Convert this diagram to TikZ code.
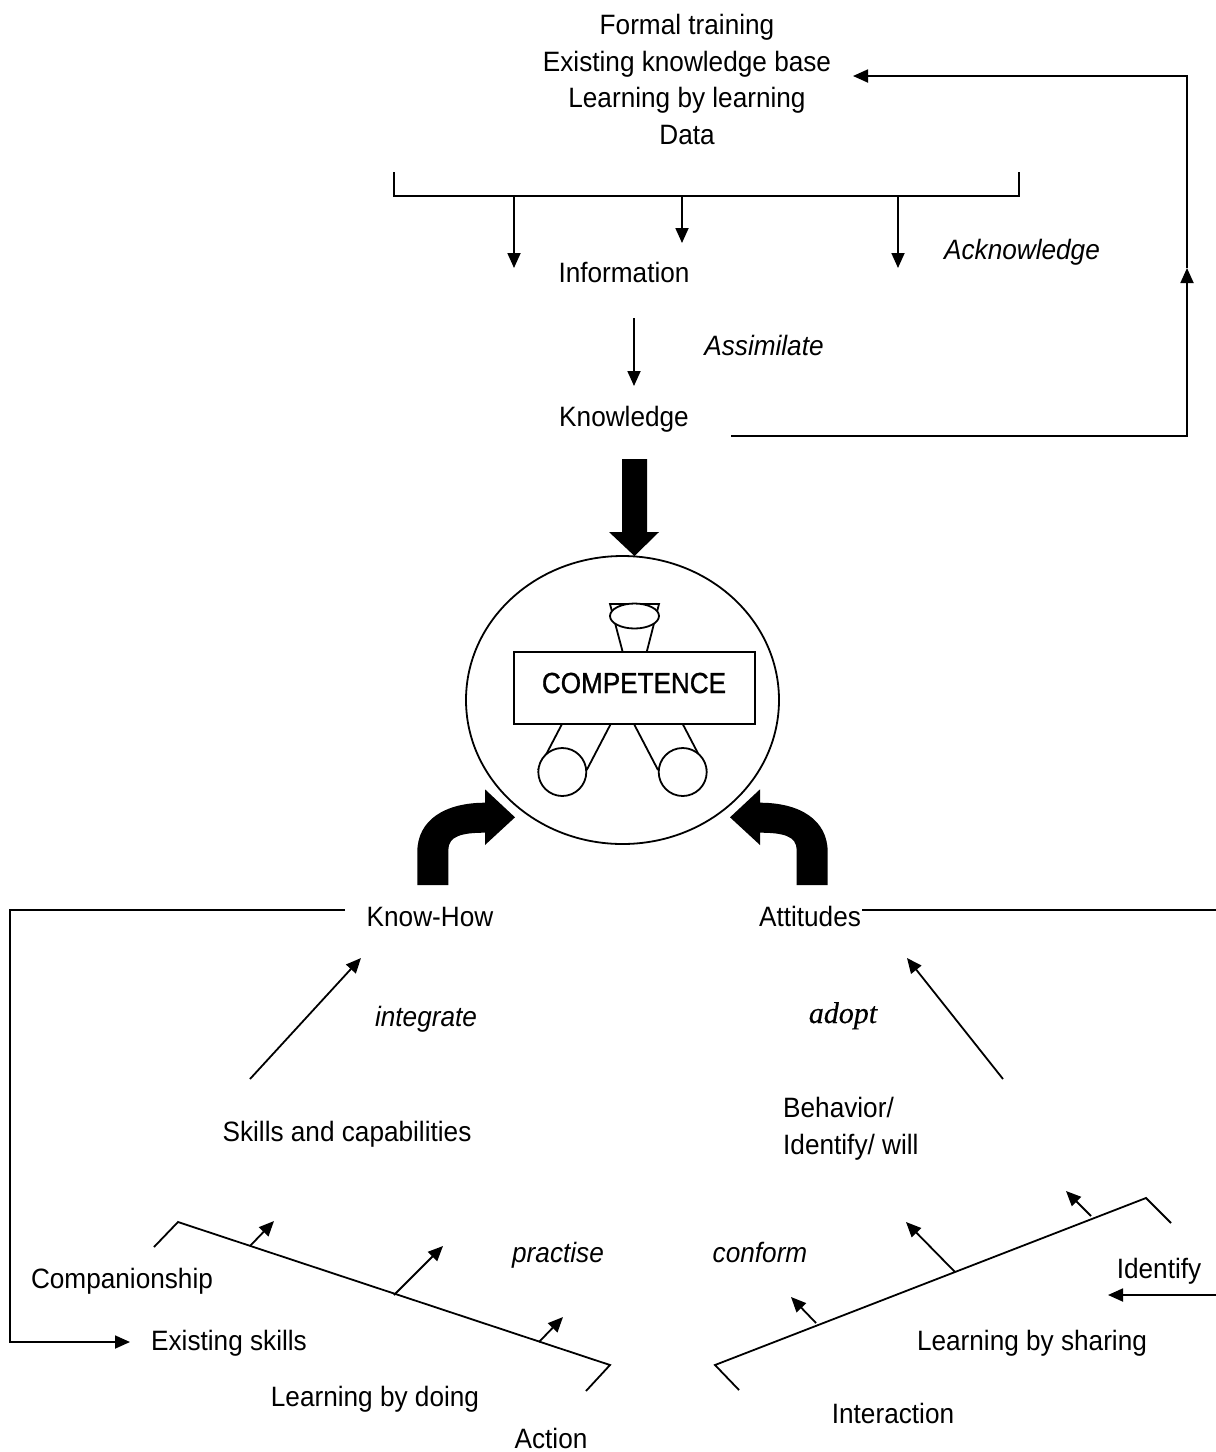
\documentclass[tikz,border=0pt]{standalone}
\usepackage{fontspec}
\setmainfont[FakeStretch=0.935]{Liberation Sans}
\newfontfamily\adoptfont[FakeBold=0.4]{Liberation Serif}
\newfontfamily\capsfont[FakeBold=1,FakeStretch=0.9]{Liberation Sans}
\usetikzlibrary{arrows.meta,shapes.geometric}
\tikzset{
	lbl/.style={inner sep=0pt, anchor=base, font=\fontsize{28}{36.5}\selectfont},
	verb/.style={lbl, font=\fontsize{28}{36.5}\selectfont\itshape},
	ln/.style={line width=1.8pt, line join=miter},
	arw/.style={ln, -{Triangle[length=15pt, width=13pt]}},
	blockarw/.style={fill=black, draw=none},
	part/.style={draw, line width=1.8pt, fill=white, inner sep=0pt},
}
\begin{document}
\begin{tikzpicture}[x=1pt, y=-1pt]
		\useasboundingbox (0,0) rectangle (1216,1452);
		\node[lbl, align=center] (sources) at (687,144) {Formal training\\Existing knowledge base\\Learning by learning\\Data};
		\node[lbl] (information) at (624,282) {Information};
		\node[lbl] (knowledge) at (624,426) {Knowledge};
		\node[verb] (acknowledge) at (1022,259) {Acknowledge};
		\node[verb] (assimilate) at (764,355) {Assimilate};
		\node[lbl] (knowhow) at (430,926) {Know-How};
		\node[lbl] (attitudes) at (810,926) {Attitudes};
		\node[verb] (integrate) at (426,1026) {integrate};
		\node[lbl, font=\fontsize{30}{36.5}\adoptfont\itshape] (adopt) at (843,1023) {adopt};
		\node[lbl] (skills) at (347,1141) {Skills and capabilities};
		\node[lbl, align=left, anchor=base west] (behavior) at (783,1154) {Behavior/\\Identify/ will};
		\node[verb] (practise) at (558,1262) {practise};
		\node[verb] (conform) at (760,1262) {conform};
		\node[lbl] (companionship) at (122,1288) {Companionship};
		\node[lbl] (existing) at (229,1350) {Existing skills};
		\node[lbl] (doing) at (375,1406) {Learning by doing};
		\node[lbl] (action) at (551,1448) {Action};
		\node[lbl] (identify) at (1159,1278) {Identify};
		\node[lbl] (sharing) at (1032,1350) {Learning by sharing};
		\node[lbl] (interaction) at (893,1423) {Interaction};

		\coordinate (bracketL) at (394,172);
		\coordinate (bracketR) at (1019,172);
		\coordinate (drop1) at (514,196);
		\coordinate (drop2) at (682,196);
		\coordinate (drop3) at (898,196);
		\coordinate (drop1end) at (514,268);
		\coordinate (drop2end) at (682,243);
		\coordinate (drop3end) at (898,268);
		\draw[ln] (bracketL) -- (394,196) -- (1019,196) -- (bracketR);
		\draw[arw] (drop1) -- (drop1end);
		\draw[arw] (drop2) -- (drop2end);
		\draw[arw] (drop3) -- (drop3end);

		\coordinate (infoOut) at (634,318);
		\coordinate (knowIn) at (634,386);
		\draw[arw] (infoOut) -- (knowIn);

		\coordinate (knowOut) at (731,436);
		\coordinate (backMid) at (1187,268);
		\coordinate (sourcesIn) at (853,76);
		\draw[arw] (knowOut) -| (backMid);
		\draw[arw] (backMid) |- (sourcesIn);

		\draw[blockarw] (622,459) -- (647,459) -- (647,532) -- (659,532) -- (634.5,556) -- (609,532) -- (622,532) -- cycle;

		\node[part, ellipse, minimum width=313pt, minimum height=288pt, fill=none] (competenceRing) at (622.5,700) {};
		\node[part, minimum width=241pt, minimum height=72pt] (competence) at (634.5,688) {};
		\node[lbl, font=\fontsize{29}{36.5}\capsfont] (competenceText) at (634,693) {COMPETENCE};

		\draw[ln] (622.7,652) -- (610,604) -- (659,604) -- (646.7,652);
		\node[part, ellipse, minimum width=49pt, minimum height=25pt] (head) at (634.5,616) {};
		\draw[ln] (562,724) -- (538,770);
		\draw[ln] (610.7,724) -- (586.7,770);
		\draw[ln] (634,724) -- (658,770);
		\draw[ln] (682.7,724) -- (706.7,770);
		\node[part, circle, minimum size=48pt] (footL) at (562.3,772) {};
		\node[part, circle, minimum size=48pt] (footR) at (682.7,772) {};

		\draw[blockarw] (417.3,885) -- (417.3,852) .. controls (417.3,820) and (445,802.7) .. (485,802.7) -- (485,789.3) -- (515,817.3) -- (485,845) -- (485,832.7) .. controls (462,832.7) and (448.3,836) .. (448.3,850) -- (448.3,885) -- cycle;
		\draw[blockarw] (827.7,885) -- (827.7,852) .. controls (827.7,820) and (800,802.7) .. (760,802.7) -- (760,789.3) -- (730,817.3) -- (760,845) -- (760,832.7) .. controls (783,832.7) and (796.7,836) .. (796.7,850) -- (796.7,885) -- cycle;

		\coordinate (howOut) at (345,910);
		\coordinate (existingIn) at (130,1342);
		\coordinate (attOut) at (862,910);
		\coordinate (attEdge) at (1216,910);
		\coordinate (identEdge) at (1216,1295);
		\coordinate (identIn) at (1108,1295);
		\draw[arw] (howOut) -- (10,910) -- (10,1342) -- (existingIn);
		\draw[ln] (attOut) -- (attEdge);
		\draw[arw] (identEdge) -- (identIn);

		\coordinate (skillsOut) at (250,1079);
		\coordinate (howIn) at (361,958);
		\coordinate (behaviorOut) at (1003,1079);
		\coordinate (attIn) at (907,958);
		\draw[arw] (skillsOut) -- (howIn);
		\draw[arw] (behaviorOut) -- (attIn);

		\coordinate (beamLa) at (178,1222);
		\coordinate (beamLb) at (610,1365);
		\coordinate (beamRa) at (715,1365);
		\coordinate (beamRb) at (1146,1198);
		\draw[ln] (154,1247) -- (beamLa) -- (beamLb) -- (586,1391);
		\draw[ln] (739,1390) -- (beamRa) -- (beamRb) -- (1171,1223);

		\draw[arw] (250,1246) -- (274,1221);
		\draw[arw] (394,1295) -- (443,1246);
		\draw[arw] (539,1342) -- (563,1317);
		\draw[arw] (816,1323) -- (791,1297);
		\draw[arw] (955,1272) -- (906,1222);
		\draw[arw] (1091,1216) -- (1066,1191);
	\end{tikzpicture}
\end{document}
